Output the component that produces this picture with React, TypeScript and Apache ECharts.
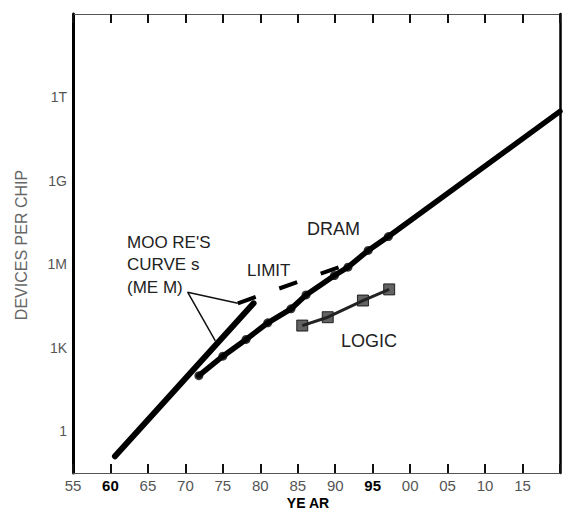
import React, { useEffect, useRef } from 'react';
import * as echarts from 'echarts';

// X axis: years (two-digit labels); Y axis: log10(devices per chip)
const yearMin = 1955;
const yearMax = 2020;
const yearStep = 5;
const boldYears = [1960, 1995];
const hiddenYearLabels = [2020];

const logMin = -1.5;
const logMax = 15;
const logStep = 1.5;
const yTickExponents = [0, 3, 6, 9, 12];
const yTickTexts = ['1', '1K', '1M', '1G', '1T'];

// Moore's curve (memory)
const mooreYears = [1960.6, 1979.1];
const mooreLog = [-0.9, 4.6];

// DRAM data points and trend extension
const dramYears = [1971.8, 1975.0, 1978.1, 1981.0, 1984.1, 1986.1, 1989.9, 1991.7, 1994.4, 1997.1];
const dramLog = [2.0, 2.7, 3.3, 3.9, 4.4, 4.9, 5.6, 5.9, 6.5, 7.0];
const dramTrendEndYear = 2020;
const dramTrendEndLog = 11.5;

// Logic
const logicYears = [1985.6, 1989.0, 1993.7, 1997.2];
const logicLog = [3.8, 4.1, 4.7, 5.1];

// Limit (dashed)
const limitYears = [1977.0, 1990.5];
const limitLog = [4.6, 5.9];

// Callout lines from the "MOORE'S CURVES (MEM)" label
const calloutYears = [1977.0, 1970.3, 1974.0];
const calloutLog = [4.6, 5.0, 3.25];

const zip = (xs: number[], ys: number[]) => xs.map((x, i) => [x, ys[i]]);

export default function App() {
  const ref = useRef<HTMLDivElement>(null);
  useEffect(() => {
    if (!ref.current) return;
    const chart = echarts.init(ref.current, undefined, { renderer: 'svg' });
    const font = 'Liberation Sans';
    const yearFormatter = (v: number) => {
      const y = Math.round(v);
      if (hiddenYearLabels.includes(y)) return '';
      const s = String(y % 100).padStart(2, '0');
      return boldYears.includes(y) ? `{b|${s}}` : s;
    };
    const logFormatter = (v: number) => {
      const idx = yTickExponents.findIndex((e) => Math.abs(e - v) < 1e-6);
      return idx >= 0 ? yTickTexts[idx] : '';
    };
    const xCommon = {
      type: 'value',
      min: yearMin,
      max: yearMax,
      interval: yearStep,
      splitLine: { show: false },
      axisLine: { show: true, onZero: false, lineStyle: { color: '#555', width: 1 } },
      axisTick: { show: true, inside: true, length: 9, lineStyle: { color: '#111', width: 2 } },
    };
    const yCommon = {
      type: 'value',
      min: logMin,
      max: logMax,
      interval: logStep,
      splitLine: { show: false },
      axisTick: { show: false },
    };
    const option = {
      animation: false,
      backgroundColor: '#ffffff',
      grid: { left: 73, right: 10, top: 14, bottom: 50, containLabel: false, outerBoundsMode: 'none' },
      xAxis: [
        {
          ...xCommon,
          position: 'bottom',
          axisLabel: {
            margin: 5,
            fontSize: 15,
            fontFamily: font,
            color: '#555',
            formatter: yearFormatter,
            rich: { b: { fontSize: 15, fontFamily: font, fontWeight: 'bold', color: '#000' } },
          },
        },
        { ...xCommon, position: 'top', axisLabel: { show: false } },
      ],
      yAxis: [
        {
          ...yCommon,
          position: 'left',
          axisLine: { show: true, onZero: false, lineStyle: { color: '#000', width: 3 } },
          axisLabel: { margin: 6, fontSize: 14, fontFamily: font, color: '#555', formatter: logFormatter },
        },
        {
          ...yCommon,
          position: 'right',
          axisLine: { show: true, onZero: false, lineStyle: { color: '#000', width: 2.5 } },
          axisLabel: { show: false },
        },
      ],
      series: [
        {
          name: "Moore's curve",
          type: 'line',
          data: zip(mooreYears, mooreLog),
          symbol: 'none',
          lineStyle: { color: '#000', width: 6, cap: 'round' },
        },
        {
          name: 'Limit',
          type: 'line',
          data: zip(limitYears, limitLog),
          symbol: 'none',
          lineStyle: { color: '#000', width: 4, type: [19, 25] },
        },
        {
          name: 'Callout',
          type: 'line',
          data: zip(calloutYears, calloutLog),
          symbol: 'none',
          lineStyle: { color: '#111', width: 1.5 },
        },
        {
          name: 'DRAM trend',
          type: 'line',
          data: [...zip(dramYears, dramLog), [dramTrendEndYear, dramTrendEndLog]],
          symbol: 'none',
          lineStyle: { color: '#000', width: 5.5, cap: 'round' },
        },
        {
          name: 'DRAM',
          type: 'scatter',
          data: zip(dramYears, dramLog),
          symbol: 'circle',
          symbolSize: 9,
          itemStyle: { color: '#000' },
        },
        {
          name: 'Logic trend',
          type: 'line',
          data: zip(logicYears, logicLog),
          symbol: 'none',
          lineStyle: { color: '#222', width: 3 },
        },
        {
          name: 'Logic',
          type: 'scatter',
          data: zip(logicYears, logicLog),
          symbol: 'rect',
          symbolSize: 11,
          itemStyle: { color: '#3c3c3c', borderColor: '#000', borderWidth: 1 },
        },
      ],
      graphic: [
        { type: 'text', x: 127, y: 242, style: { text: "MOO RE'S", fontSize: 17, fontFamily: font, fill: '#222', verticalAlign: 'middle' } },
        { type: 'text', x: 127, y: 264, style: { text: 'CURVE s', fontSize: 17, fontFamily: font, fill: '#222', verticalAlign: 'middle' } },
        { type: 'text', x: 127, y: 287, style: { text: '(ME M)', fontSize: 17, fontFamily: font, fill: '#222', verticalAlign: 'middle' } },
        { type: 'text', x: 247, y: 270, style: { text: 'LIMIT', fontSize: 17, fontFamily: font, fill: '#222', verticalAlign: 'middle' } },
        { type: 'text', x: 307, y: 229, style: { text: 'DRAM', fontSize: 18, fontFamily: font, fill: '#222', verticalAlign: 'middle' } },
        { type: 'text', x: 341, y: 341, style: { text: 'LOGIC', fontSize: 18, fontFamily: font, fill: '#222', verticalAlign: 'middle' } },
        { type: 'text', x: 308, y: 503, style: { text: 'YE AR', fontSize: 14, fontFamily: font, fontWeight: 'bold', fill: '#000', align: 'center', verticalAlign: 'middle' } },
        { type: 'text', x: 21, y: 245, rotation: Math.PI / 2, style: { text: 'DEVICES PER CHIP', fontSize: 16, fontFamily: font, fill: '#666', align: 'center', verticalAlign: 'middle' } },
      ],
    };
    chart.setOption(option as any);
    return () => chart.dispose();
  }, []);
  return <div ref={ref} style={{ position: 'fixed', left: 0, top: 0, width: 570, height: 523, background: '#fff' }} />;
}
